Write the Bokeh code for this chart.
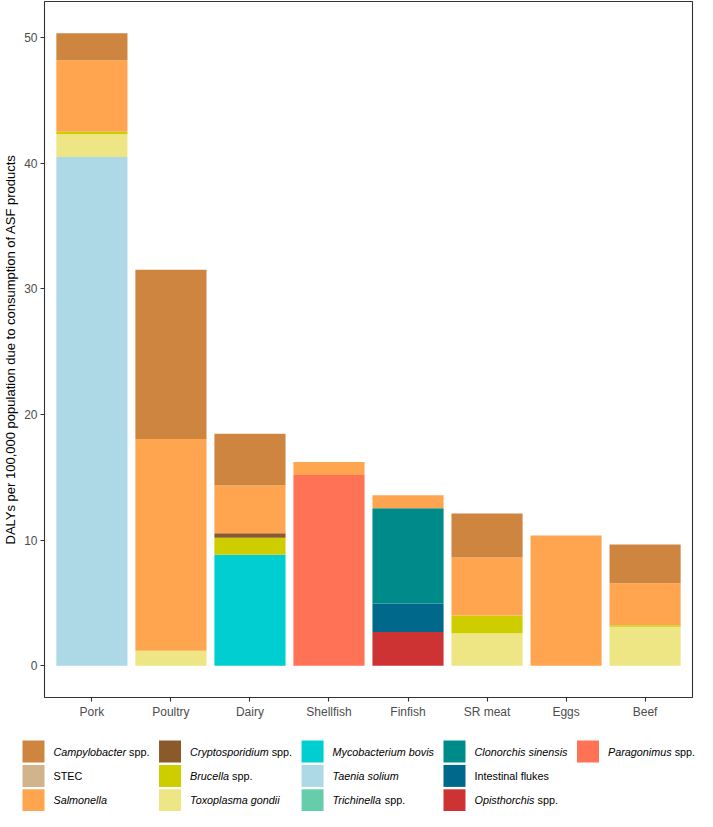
from bokeh.plotting import figure
from bokeh.models import ColumnDataSource, FactorRange, Range1d, FixedTicker
from bokeh.layouts import column
from bokeh.embed import file_html
from bokeh.resources import INLINE
from bokeh.core.properties import value

# ---------------- data ----------------
categories = ["Pork", "Poultry", "Dairy", "Shellfish", "Finfish", "SR meat", "Eggs", "Beef"]

campylobacter     = [2.16, 13.45, 4.12, 0.00, 0.00, 3.50, 0.00, 3.08]
stec              = [0.00, 0.00, 0.00, 0.00, 0.00, 0.00, 0.00, 0.00]
salmonella        = [5.69, 16.85, 3.81, 1.03, 1.03, 4.61, 10.36, 3.34]
cryptosporidium   = [0.00, 0.00, 0.34, 0.00, 0.00, 0.00, 0.00, 0.00]
brucella          = [0.19, 0.00, 1.37, 0.00, 0.00, 1.42, 0.00, 0.13]
toxoplasma        = [1.81, 1.20, 0.00, 0.00, 0.00, 2.59, 0.00, 3.11]
mycobacterium     = [0.00, 0.00, 8.83, 0.00, 0.00, 0.00, 0.00, 0.00]
taenia            = [40.48, 0.00, 0.00, 0.00, 0.00, 0.00, 0.00, 0.00]
trichinella       = [0.00, 0.00, 0.00, 0.00, 0.00, 0.00, 0.00, 0.00]
clonorchis        = [0.00, 0.00, 0.00, 0.00, 7.57, 0.00, 0.00, 0.00]
intestinal_flukes = [0.00, 0.00, 0.00, 0.00, 2.28, 0.00, 0.00, 0.00]
opisthorchis      = [0.00, 0.00, 0.00, 0.00, 2.69, 0.00, 0.00, 0.00]
paragonimus       = [0.00, 0.00, 0.00, 15.18, 0.00, 0.00, 0.00, 0.00]

# legend order (ggplot level order); labels split into italic part + upright part
species_keys = ["campylobacter", "stec", "salmonella", "cryptosporidium", "brucella",
                "toxoplasma", "mycobacterium", "taenia", "trichinella", "clonorchis",
                "intestinal_flukes", "opisthorchis", "paragonimus"]
label_italic = ["Campylobacter", "", "Salmonella", "Cryptosporidium", "Brucella",
                "Toxoplasma gondii", "Mycobacterium bovis", "Taenia solium", "Trichinella",
                "Clonorchis sinensis", "", "Opisthorchis", "Paragonimus"]
label_plain = ["spp.", "STEC", "", "spp.", "spp.", "", "", "", "spp.", "",
               "Intestinal flukes", "spp.", "spp."]
species_colors = ["#CD853F", "#D2B48C", "#FFA54F", "#8B5A2B", "#CDCD00", "#EEE685",
                  "#00CED1", "#ADD8E6", "#66CDAA", "#008B8B", "#00688B", "#CD3333", "#FF7256"]
series = [campylobacter, stec, salmonella, cryptosporidium, brucella, toxoplasma,
          mycobacterium, taenia, trichinella, clonorchis, intestinal_flukes,
          opisthorchis, paragonimus]

y_ticks = [0, 10, 20, 30, 40, 50]
y_title = "DALYs per 100,000 population due to consumption of ASF products"

FONT = "Liberation Sans"

# shared geometry
W = 697
BORDER_L, BORDER_R = 39, 5
MAIN_H = 734
LH = 77

# ---------------- main chart ----------------
data = {"cat": categories}
for k, s in zip(species_keys, series):
    data[k] = s
source = ColumnDataSource(data)

totals = [sum(vals) for vals in zip(*series)]
ymax = max(totals)
pad = 0.05 * ymax

p = figure(x_range=FactorRange(*categories, range_padding=0.025),
           y_range=Range1d(-pad, ymax + pad),
           width=W, height=MAIN_H, output_backend="svg", toolbar_location=None,
           min_border_left=BORDER_L, min_border_right=BORDER_R,
           min_border_top=1, min_border_bottom=37)

stack_order = list(reversed(species_keys))
stack_colors = list(reversed(species_colors))
p.vbar_stack(stack_order, x="cat", width=0.9, source=source,
             fill_color=stack_colors, line_color=None)

p.xgrid.grid_line_color = None
p.ygrid.grid_line_color = None
p.outline_line_color = "#333333"
p.outline_line_width = 1.1
p.background_fill_color = "white"
p.border_fill_color = "white"

p.yaxis.ticker = FixedTicker(ticks=y_ticks)
p.yaxis.axis_label = y_title
p.yaxis.axis_label_text_font = FONT
p.yaxis.axis_label_text_font_size = "13px"
p.yaxis.axis_label_text_font_style = "normal"
p.yaxis.axis_label_text_color = "black"
p.yaxis.axis_label_standoff = 3

for ax in (p.xaxis, p.yaxis):
    ax.axis_line_color = None
    ax.major_tick_line_color = "#333333"
    ax.major_tick_line_width = 1.1
    ax.major_tick_in = 0
    ax.major_tick_out = 4
    ax.minor_tick_line_color = None
    ax.major_label_text_font = FONT
    ax.major_label_text_font_size = "12px"
    ax.major_label_text_color = "#4d4d4d"
    ax.major_label_standoff = 3

# ---------------- legend (drawn as its own figure, pixel-like data units) ----------------
HELV = {' ': 278, '.': 278, ',': 278,
        'a': 556, 'b': 556, 'c': 500, 'd': 556, 'e': 556, 'f': 278, 'g': 556, 'h': 556,
        'i': 222, 'j': 222, 'k': 500, 'l': 222, 'm': 833, 'n': 556, 'o': 556, 'p': 556,
        'q': 556, 'r': 333, 's': 500, 't': 278, 'u': 556, 'v': 500, 'w': 722, 'x': 500,
        'y': 500, 'z': 500,
        'A': 667, 'B': 667, 'C': 722, 'D': 722, 'E': 667, 'F': 611, 'G': 778, 'H': 722,
        'I': 278, 'J': 500, 'K': 667, 'L': 556, 'M': 833, 'N': 722, 'O': 778, 'P': 667,
        'Q': 778, 'R': 722, 'S': 667, 'T': 611, 'U': 722, 'V': 667, 'W': 944, 'X': 667,
        'Y': 667, 'Z': 611}

FS = 10.8


def text_w(s):
    return sum(HELV.get(ch, 556) for ch in s) * FS / 1000.0


KEY = 22
TEXT_GAP = 9
COL_GAP = 9.5
ROW_STEP = 24.4
N_ROWS = 3
LEFT0 = 22
TOP0 = 6

n = len(species_keys)
key_x, key_y = [], []
it_x, it_y, it_t = [], [], []
pl_x, pl_y, pl_t = [], [], []
col_left = LEFT0
for c in range((n + N_ROWS - 1) // N_ROWS):
    idx = list(range(c * N_ROWS, min(n, (c + 1) * N_ROWS)))
    widths = []
    for r, i in enumerate(idx):
        cy = TOP0 + r * ROW_STEP + KEY / 2
        key_x.append(col_left + KEY / 2)
        key_y.append(cy)
        tx = col_left + KEY + TEXT_GAP
        w = 0.0
        if label_italic[i]:
            it_x.append(tx)
            it_y.append(cy)
            it_t.append(label_italic[i])
            w = text_w(label_italic[i])
        if label_plain[i]:
            off = text_w(label_italic[i] + " ") if label_italic[i] else 0.0
            pl_x.append(tx + off)
            pl_y.append(cy)
            pl_t.append(label_plain[i])
            w = off + text_w(label_plain[i])
        widths.append(w)
    col_left += KEY + TEXT_GAP + max(widths) + COL_GAP

# legend figure: frame covers the whole figure, data units equal pixels
leg = figure(width=W, height=LH, x_range=Range1d(0, W), y_range=Range1d(LH, 0),
             output_backend="svg", toolbar_location=None,
             x_axis_type=None, y_axis_type=None,
             min_border=0, min_border_left=0, min_border_right=0,
             min_border_top=0, min_border_bottom=0)
leg.frame_align = False
leg.outline_line_color = None
leg.background_fill_color = "white"
leg.border_fill_color = "white"

leg.rect(x=key_x, y=key_y, width=KEY, height=KEY, fill_color=species_colors, line_color=None)
leg.text(x=it_x, y=it_y, text=it_t, text_font=value(FONT), text_font_size=value(f"{FS}px"),
         text_font_style="italic", text_baseline="middle", text_align="left", text_color="black")
leg.text(x=pl_x, y=pl_y, text=pl_t, text_font=value(FONT), text_font_size=value(f"{FS}px"),
         text_font_style="normal", text_baseline="middle", text_align="left", text_color="black")

p.frame_align = False
layout = column(p, leg, spacing=0)

with open("out.html", "w") as f:
    f.write(file_html(layout, INLINE))
